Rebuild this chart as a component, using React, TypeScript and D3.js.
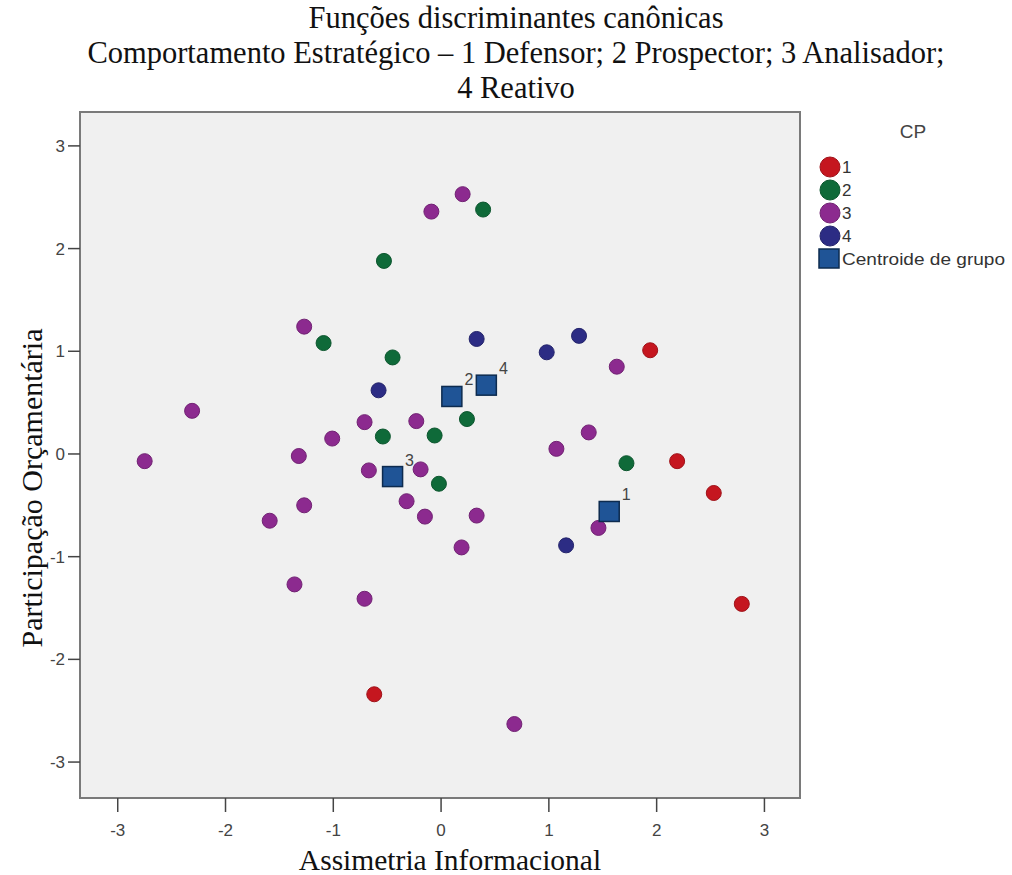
import React from "react";
import * as d3 from "d3";

const titleLines = [
  "Funções discriminantes canônicas",
  "Comportamento Estratégico – 1 Defensor; 2 Prospector; 3 Analisador;",
  "4 Reativo",
];
const xTitle = "Assimetria Informacional";
const yTitle = "Participação Orçamentária";
const legendTitle = "CP";
const centroidLabel = "Centroide de grupo";

const tickValues = [-3, -2, -1, 0, 1, 2, 3];

const groupNames = ["1", "2", "3", "4"];
const groupColors = ["#c5161f", "#0f6a39", "#8c2a8f", "#2c2c84"];

const group1: [number, number][] = [
  [1.94, 1.01], [2.19, -0.07], [2.53, -0.38], [2.79, -1.46], [-0.62, -2.34],
];
const group2: [number, number][] = [
  [0.39, 2.38], [-0.53, 1.88], [-1.09, 1.08], [-0.45, 0.94], [0.24, 0.34],
  [-0.06, 0.18], [-0.54, 0.17], [1.72, -0.09], [-0.02, -0.29],
];
const group3: [number, number][] = [
  [0.2, 2.53], [-0.09, 2.36], [-1.27, 1.24], [-2.31, 0.42], [1.63, 0.85],
  [-0.71, 0.31], [-0.23, 0.32], [-1.01, 0.15], [1.37, 0.21], [1.07, 0.05],
  [-2.75, -0.07], [-1.32, -0.02], [-0.67, -0.16], [-0.19, -0.15], [-1.27, -0.5],
  [-0.32, -0.46], [-0.15, -0.61], [0.33, -0.6], [-1.59, -0.65], [1.46, -0.72],
  [0.19, -0.91], [-1.36, -1.27], [-0.71, -1.41], [0.68, -2.63],
];
const group4: [number, number][] = [
  [0.33, 1.12], [1.28, 1.15], [0.98, 0.99], [-0.58, 0.62], [1.16, -0.89],
];
const groups = [group1, group2, group3, group4];

const centroids: [number, number][] = [
  [1.56, -0.56], [0.1, 0.56], [-0.45, -0.22], [0.42, 0.67],
];

const W = 1012;
const H = 875;
const plot = { left: 80, right: 800, top: 112, bottom: 798 };

const serif = "'Liberation Serif', 'Times New Roman', serif";
const sans = "'Liberation Sans', Arial, sans-serif";

export default function App() {
  const x = d3.scaleLinear().domain([-3.35, 3.33]).range([plot.left, plot.right]);
  const y = d3.scaleLinear().domain([-3.35, 3.33]).range([plot.bottom, plot.top]);

  return (
    <div style={{ position: "absolute", left: 0, top: 0 }}>
      <svg width={W} height={H} style={{ display: "block", background: "#fff" }}>
        {titleLines.map((t, i) => (
          <text key={i} x={516} y={28 + i * 35} textAnchor="middle" fontFamily={serif} fontSize={30.5} fill="#111">
            {t}
          </text>
        ))}
        <rect
          x={plot.left}
          y={plot.top}
          width={plot.right - plot.left}
          height={plot.bottom - plot.top}
          fill="#f0f0f0"
          stroke="#7a7a7a"
          strokeWidth={2}
        />
        {tickValues.map((v) => (
          <g key={"x" + v}>
            <line x1={x(v)} x2={x(v)} y1={plot.bottom} y2={plot.bottom + 14} stroke="#444" strokeWidth={1.5} />
            <text x={x(v)} y={836} textAnchor="middle" fontFamily={sans} fontSize={17} fill="#444">
              {v}
            </text>
          </g>
        ))}
        {tickValues.map((v) => (
          <g key={"y" + v}>
            <line x1={plot.left - 12} x2={plot.left} y1={y(v)} y2={y(v)} stroke="#444" strokeWidth={1.5} />
            <text x={65} y={y(v) + 6} textAnchor="end" fontFamily={sans} fontSize={17} fill="#444">
              {v}
            </text>
          </g>
        ))}
        <text x={450} y={870} textAnchor="middle" fontFamily={serif} fontSize={29.5} fill="#111">
          {xTitle}
        </text>
        <text
          transform={`translate(42, 488) rotate(-90)`}
          textAnchor="middle"
          fontFamily={serif}
          fontSize={30}
          fill="#111"
        >
          {yTitle}
        </text>
        {groups.map((pts, gi) =>
          pts.map((p, i) => (
            <circle
              key={gi + "-" + i}
              cx={x(p[0])}
              cy={y(p[1])}
              r={7.5}
              fill={groupColors[gi]}
              stroke={d3.color(groupColors[gi])!.darker(0.6).toString()}
              strokeWidth={1}
            />
          ))
        )}
        {centroids.map((c, i) => (
          <g key={"c" + i}>
            <rect
              x={x(c[0]) - 10}
              y={y(c[1]) - 10}
              width={20}
              height={20}
              fill="#1f5496"
              stroke="#0d2b4f"
              strokeWidth={1.5}
            />
            <text x={x(c[0]) + 17} y={y(c[1]) - 11} textAnchor="middle" fontFamily={sans} fontSize={16} fill="#444">
              {groupNames[i]}
            </text>
          </g>
        ))}
        <text x={913} y={138} textAnchor="middle" fontFamily={sans} fontSize={19} fill="#444">
          {legendTitle}
        </text>
        {groupNames.map((n, i) => (
          <g key={"l" + i}>
            <circle cx={830} cy={167 + i * 23} r={10} fill={groupColors[i]} stroke={d3.color(groupColors[i])!.darker(0.6).toString()} />
            <text x={842} y={167 + i * 23 + 6} fontFamily={sans} fontSize={17} fill="#333">
              {n}
            </text>
          </g>
        ))}
        <rect x={819} y={249} width={20} height={19} fill="#1f5496" stroke="#0d2b4f" strokeWidth={1.5} />
        <text x={842} y={265} fontFamily={sans} fontSize={17} fill="#333" textLength={163} lengthAdjust="spacingAndGlyphs">
          {centroidLabel}
        </text>
      </svg>
    </div>
  );
}
